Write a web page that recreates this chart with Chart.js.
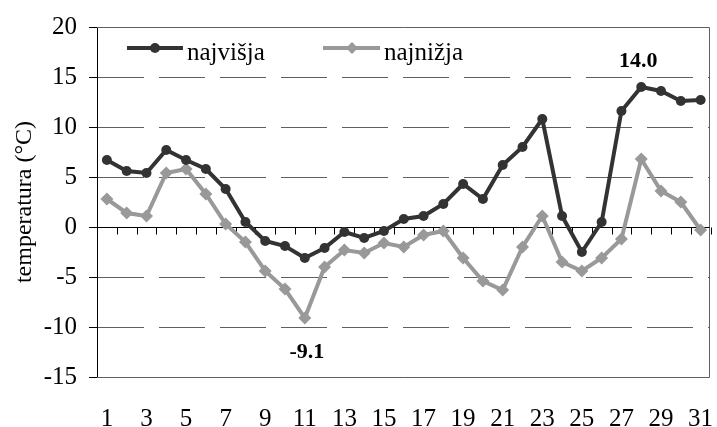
<!DOCTYPE html>
<html>
<head>
<meta charset="utf-8">
<script src="https://cdn.jsdelivr.net/npm/chart.js@4/dist/chart.umd.min.js"></script>
<style>
  html, body { margin: 0; padding: 0; background: #ffffff; }
  #wrap { width: 717px; height: 427px; }
</style>
</head>
<body>
<div id="wrap"><canvas id="tempChart" width="717" height="427"></canvas></div>
<script>
// days of the month
const dani = ['1','2','3','4','5','6','7','8','9','10','11','12','13','14','15','16',
              '17','18','19','20','21','22','23','24','25','26','27','28','29','30','31'];

// daily maximum temperature (°C)
const najvisja = [6.7, 5.6, 5.4, 7.7, 6.7, 5.8, 3.8, 0.5, -1.4, -1.9, -3.1, -2.1, -0.5, -1.1, -0.4, 0.8,
                  1.1, 2.3, 4.3, 2.8, 6.2, 8.0, 10.8, 1.1, -2.5, 0.5, 11.6, 14.0, 13.6, 12.6, 12.7];

// daily minimum temperature (°C)
const najnizja = [2.8, 1.4, 1.1, 5.4, 5.8, 3.3, 0.3, -1.5, -4.4, -6.2, -9.1, -4.0, -2.3, -2.6, -1.6, -2.0,
                  -0.8, -0.4, -3.1, -5.4, -6.3, -2.0, 1.1, -3.5, -4.4, -3.1, -1.2, 6.8, 3.6, 2.5, -0.3];

const serifFont = "'Liberation Serif', 'Times New Roman', serif";
const darkColor = '#333333';
const lightColor = '#999999';
const gridColor = '#5f5f5f';

// dashed grid, solid frame lines, zero line and its tick marks
const frameLines = {
    id: 'frameLines',
    beforeDatasetsDraw: (chart) => {
        const ctx = chart.ctx;
        const area = chart.chartArea;
        const xs = chart.scales.x;
        const ys = chart.scales.y;
        const yTop = Math.round(ys.getPixelForValue(20)) + 0.5;
        const yBot = Math.round(ys.getPixelForValue(-15)) + 0.5;
        const xRight = Math.round(area.right) - 1.5;

        ctx.save();
        ctx.lineWidth = 1;
        ctx.strokeStyle = gridColor;

        // dashed grid lines
        ctx.setLineDash([46, 15]);
        ctx.beginPath();
        ys.ticks.forEach((t) => {
            if (t.value === 0 || t.value === 20 || t.value === -15) return;
            const y = Math.round(ys.getPixelForValue(t.value)) + 0.5;
            ctx.moveTo(area.left + 1, y);
            ctx.lineTo(xRight, y);
        });
        ctx.stroke();
        ctx.setLineDash([]);

        // gray frame top / right / bottom
        ctx.beginPath();
        ctx.moveTo(area.left, yTop);
        ctx.lineTo(xRight, yTop);
        ctx.lineTo(xRight, yBot);
        ctx.lineTo(area.left, yBot);
        ctx.stroke();

        // black zero line
        const y0 = Math.round(ys.getPixelForValue(0)) + 0.5;
        const step = xs.getPixelForValue(1) - xs.getPixelForValue(0);
        ctx.strokeStyle = '#000000';
        ctx.beginPath();
        ctx.moveTo(area.left, y0);
        ctx.lineTo(xRight, y0);
        // tick marks between the days
        for (let i = 0; i <= dani.length; i++) {
            const x = Math.round(xs.getPixelForValue(i) - step / 2) + 0.5;
            ctx.moveTo(x, y0);
            ctx.lineTo(x, y0 + 7);
        }
        ctx.stroke();
        ctx.restore();
    }
};

// legend in the plot and the labels of the extremes
const extras = {
    id: 'extras',
    afterDraw: (chart) => {
        const ctx = chart.ctx;
        const xs = chart.scales.x;
        const ys = chart.scales.y;
        ctx.save();

        // legend entry 1
        ctx.lineWidth = 4;
        ctx.strokeStyle = darkColor;
        ctx.beginPath();
        ctx.moveTo(127, 48);
        ctx.lineTo(183, 48);
        ctx.stroke();
        ctx.fillStyle = darkColor;
        ctx.beginPath();
        ctx.arc(155, 48, 5, 0, Math.PI * 2);
        ctx.fill();

        // legend entry 2
        ctx.strokeStyle = lightColor;
        ctx.beginPath();
        ctx.moveTo(323, 48);
        ctx.lineTo(380, 48);
        ctx.stroke();
        ctx.fillStyle = lightColor;
        ctx.beginPath();
        ctx.moveTo(352, 42);
        ctx.lineTo(358, 48);
        ctx.lineTo(352, 54);
        ctx.lineTo(346, 48);
        ctx.closePath();
        ctx.fill();

        ctx.fillStyle = '#000000';
        ctx.font = '25px ' + serifFont;
        ctx.textAlign = 'left';
        ctx.textBaseline = 'alphabetic';
        ctx.fillText('najvišja', 187, 60);
        ctx.fillText('najnižja', 384, 60);

        // extreme values
        const iMax = najvisja.indexOf(Math.max(...najvisja));
        const iMin = najnizja.indexOf(Math.min(...najnizja));
        ctx.font = 'bold 22px ' + serifFont;
        ctx.textAlign = 'center';
        ctx.fillText(najvisja[iMax].toFixed(1), xs.getPixelForValue(iMax) - 3, ys.getPixelForValue(najvisja[iMax]) - 20);
        ctx.fillText(najnizja[iMin].toFixed(1), xs.getPixelForValue(iMin) + 2, ys.getPixelForValue(najnizja[iMin]) + 40);
        ctx.restore();
    }
};

new Chart(document.getElementById('tempChart'), {
    type: 'line',
    data: {
        labels: dani,
        datasets: [{
            label: 'najvišja',
            data: najvisja,
            borderColor: darkColor,
            backgroundColor: darkColor,
            borderWidth: 4,
            pointStyle: 'circle',
            pointRadius: 5,
            pointBorderWidth: 0,
            tension: 0
        }, {
            label: 'najnižja',
            data: najnizja,
            borderColor: lightColor,
            backgroundColor: lightColor,
            borderWidth: 4,
            pointStyle: 'rectRot',
            pointRadius: 6.5,
            pointBorderWidth: 0,
            tension: 0
        }]
    },
    options: {
        responsive: false,
        animation: false,
        layout: { padding: { top: 22, right: -6, left: 0, bottom: 0 } },
        plugins: {
            legend: { display: false },
            tooltip: { enabled: false }
        },
        scales: {
            x: {
                type: 'category',
                offset: true,
                grid: { display: false, drawTicks: false },
                border: { display: false },
                ticks: {
                    autoSkip: false,
                    maxRotation: 0,
                    padding: 27,
                    color: '#000000',
                    font: { family: serifFont, size: 25 },
                    callback: function(value, index) {
                        return index % 2 === 0 ? this.getLabelForValue(value) : '';
                    }
                },
                afterFit: (scale) => {
                    scale.height = 50;
                    // keep the tick label padding from shrinking the plot sideways
                    scale.paddingLeft = 0;
                    scale.paddingRight = 0;
                }
            },
            y: {
                min: -15,
                max: 20,
                grid: {
                    drawOnChartArea: false,
                    tickColor: '#000000',
                    tickLength: 8
                },
                border: { display: true, color: '#000000', width: 1 },
                ticks: {
                    stepSize: 5,
                    padding: 12,
                    color: '#000000',
                    font: { family: serifFont, size: 25 }
                },
                title: {
                    display: true,
                    text: 'temperatura (°C)',
                    color: '#000000',
                    font: { family: serifFont, size: 24 },
                    padding: { top: 10, bottom: 0 }
                },
                afterFit: (scale) => { scale.width = 97; }
            }
        }
    },
    plugins: [frameLines, extras]
});
</script>
</body>
</html>
